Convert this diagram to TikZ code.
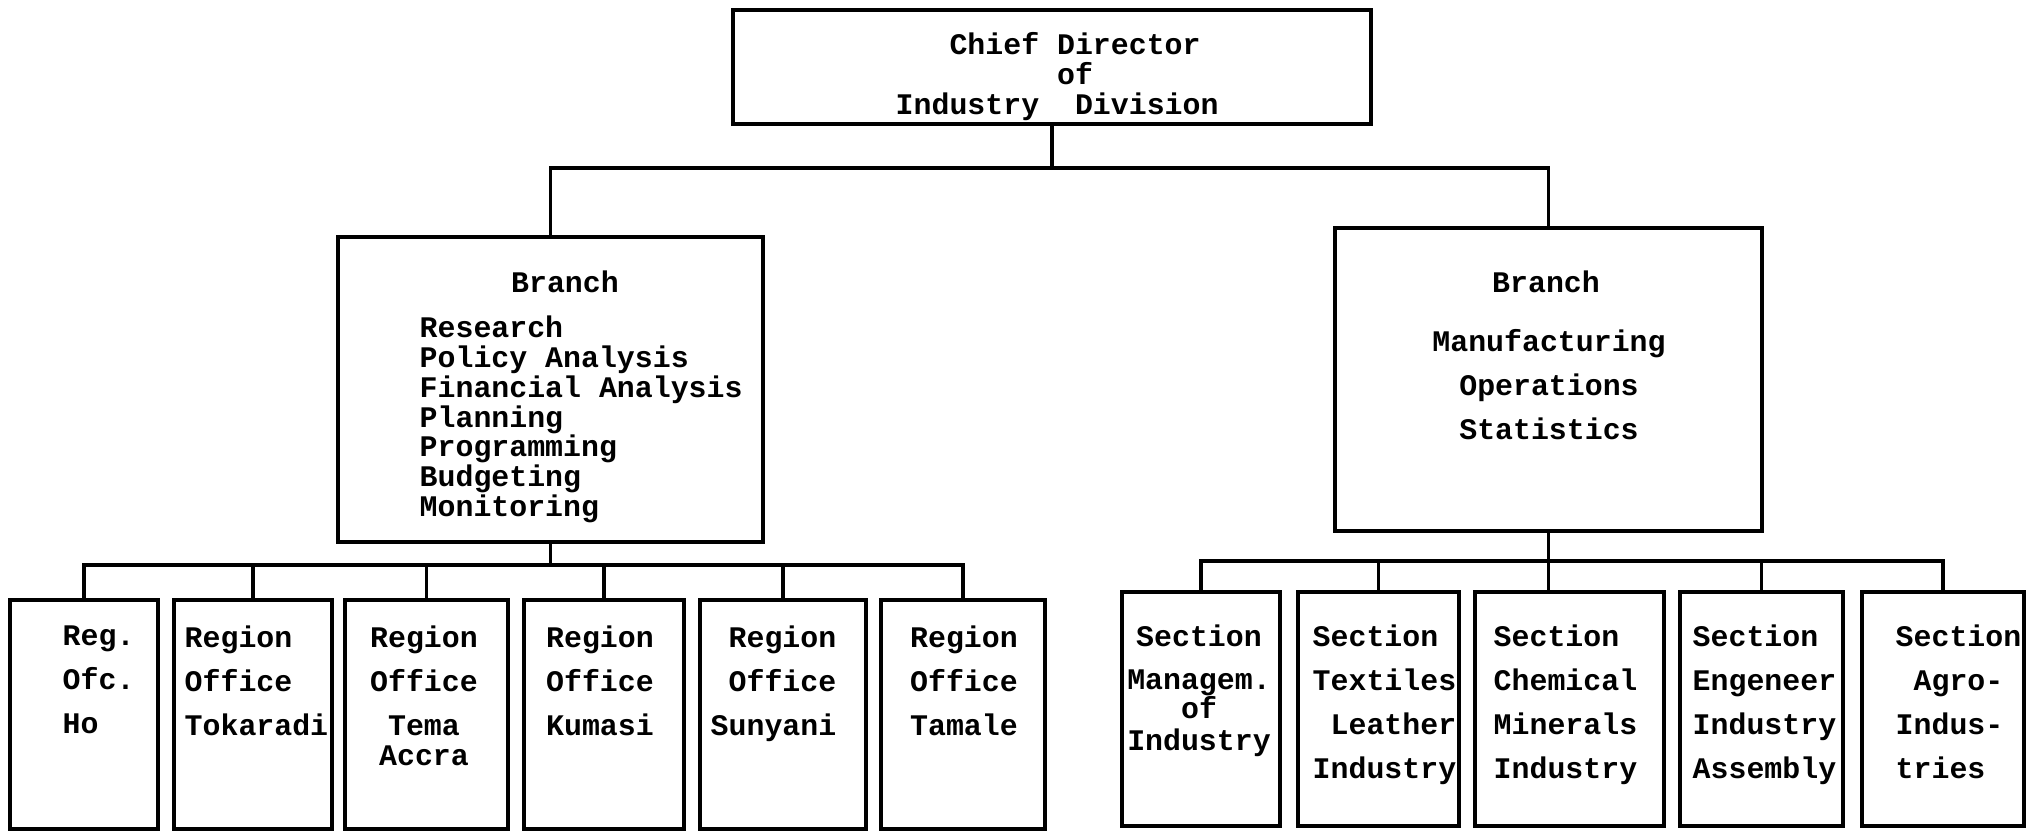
\documentclass[tikz,border=0pt]{standalone}
\usepackage{fontspec}
\newfontfamily\typewriter{Liberation Mono}
\lineskiplimit=-100pt
\begin{document}
\begin{tikzpicture}[x=0.01cm,y=-0.01cm,
  box/.style={draw, line width=1pt, rectangle, inner sep=0pt},
  wire/.style={line width=1pt},
  txt/.style={inner sep=0pt, font=\typewriter\bfseries\fontsize{8.5}{12.5}\selectfont},
  tight/.style={inner sep=0pt, font=\typewriter\bfseries\fontsize{8.5}{8.5}\selectfont}]
\useasboundingbox (0,0) rectangle (2032,835);

% ---- top level ----
\node[box, minimum width=6.38cm, minimum height=1.14cm] (chief) at (1052,67) {};
\node[tight, align=left, anchor=north west] (chieftxt) at (895,32)
  {\phantom{xxx}Chief Director\\\phantom{xxxxxxxxx}of\\Industry\phantom{xx}Division};

% ---- branches ----
\node[box, minimum width=4.25cm, minimum height=3.05cm] (lb) at (550.5,389.5) {};
\node[txt, anchor=north] (lbhead) at (565,270) {Branch};
\node[tight, align=left, anchor=north west] (lblist) at (419,315)
  {Research\\Policy Analysis\\Financial Analysis\\Planning\\Programming\\Budgeting\\Monitoring};

\node[box, minimum width=4.27cm, minimum height=3.03cm] (rb) at (1548.5,379.5) {};
\node[txt, anchor=north] (rbhead) at (1546,270) {Branch};
\node[txt, align=center, anchor=north] (rblist) at (1549,329)
  {Manufacturing\\Operations\\Statistics};

% ---- regional offices ----
\node[box, minimum width=1.48cm, minimum height=2.29cm] (o1) at (84,714.5) {};
\node[box, minimum width=1.58cm, minimum height=2.29cm] (o2) at (253,714.5) {};
\node[box, minimum width=1.63cm, minimum height=2.29cm] (o3) at (426.5,714.5) {};
\node[box, minimum width=1.60cm, minimum height=2.29cm] (o4) at (604,714.5) {};
\node[box, minimum width=1.66cm, minimum height=2.29cm] (o5) at (783,714.5) {};
\node[box, minimum width=1.64cm, minimum height=2.29cm] (o6) at (963,714.5) {};

\node[txt, align=left, anchor=north west] (o1txt) at (62,625) {Reg.\\Ofc.\\Ho};
\node[txt, align=left, anchor=north west] (o2txt) at (184,625) {Region\\Office\\Tokaradi};
\node[txt, align=center, anchor=north] (o3txt) at (424,625) {Region\\Office\\Tema\\[-4pt]Accra};
\node[txt, align=center, anchor=north] (o4txt) at (600,625) {Region\\Office\\Kumasi};
\node[txt, align=right, anchor=north east] (o5txt) at (837,625) {Region\\Office\\Sunyani};
\node[txt, align=center, anchor=north] (o6txt) at (964,625) {Region\\Office\\Tamale};

% ---- sections ----
\node[box, minimum width=1.58cm, minimum height=2.34cm] (s1) at (1201,709) {};
\node[box, minimum width=1.61cm, minimum height=2.34cm] (s2) at (1378.5,709) {};
\node[box, minimum width=1.89cm, minimum height=2.34cm] (s3) at (1569.5,709) {};
\node[box, minimum width=1.63cm, minimum height=2.34cm] (s4) at (1761.5,709) {};
\node[box, minimum width=1.62cm, minimum height=2.34cm] (s5) at (1943,709) {};

\node[txt, align=center, anchor=north] (s1txt) at (1199,624)
  {Section\\[-0.3pt]Managem.\\[-4.3pt]of\\[-3.4pt]Industry};
\node[txt, align=left, anchor=north west] (s2txt) at (1312,624)
  {Section\\Textiles\\\phantom{x}Leather\\Industry};
\node[txt, align=left, anchor=north west] (s3txt) at (1493,624)
  {Section\\Chemical\\Minerals\\Industry};
\node[txt, align=left, anchor=north west] (s4txt) at (1692,624)
  {Section\\Engeneer\\Industry\\Assembly};
\node[txt, align=left, anchor=north west] (s5txt) at (1895,624)
  {Section\\\phantom{x}Agro-\\Indus-\\tries};

% ---- connectors ----
\coordinate (j0) at (1052,168);
\draw[wire] (chief.south) -- (j0);
\draw[wire] (lb.north) |- (j0) -| (rb.north);

\coordinate (j1) at (550.5,565);
\draw[wire] (lb.south) -- (j1);
\draw[wire] (o1.north) |- (j1) -| (o6.north);
\foreach \n in {o2,o3,o4,o5}
  \draw[wire] (\n.north) -- (\n.north |- j1);

\coordinate (j2) at (1548.5,561);
\draw[wire] (rb.south) -- (rb.south |- s3.north);
\draw[wire] (s1.north) |- (j2) -| (s5.north);
\foreach \n in {s2,s4}
  \draw[wire] (\n.north) -- (\n.north |- j2);
\end{tikzpicture}
\end{document}
